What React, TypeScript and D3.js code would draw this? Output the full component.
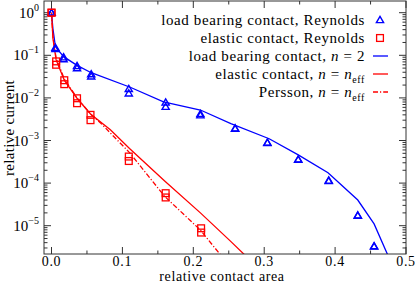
import React from "react";
import * as d3 from "d3";

const W = 415, H = 284;
const M = { left: 44, right: 406, top: 1, bottom: 254 };

const xTicks = [0, 0.1, 0.2, 0.3, 0.4, 0.5];
const xTickLabels = ["0.0", "0.1", "0.2", "0.3", "0.4", "0.5"];
const yDecades = [0, -1, -2, -3, -4, -5];

// load bearing contact, Reynolds (two realizations)
const lbX = [0, 0.0055, 0.017, 0.036, 0.056, 0.109, 0.161, 0.21, 0.259, 0.3045, 0.348, 0.391, 0.432, 0.455];
const lbY1 = [1, 0.15, 0.09, 0.056, 0.036, 0.0162, 0.0078, 0.0042, 0.00193, 8.9e-4, 3.6e-4, 1.15e-4, 1.75e-5, 3.3e-6];
const lbY2 = [1, 0.14, 0.081, 0.05, 0.032, 0.0128, 0.0062, 0.0039, 0.0019, 8.8e-4, 3.55e-4, 1.12e-4, 1.72e-5, 3.25e-6];

// elastic contact, Reynolds (two realizations)
const elX = [0, 0.0065, 0.018, 0.036, 0.055, 0.109, 0.161, 0.211];
const elY1 = [1, 0.072, 0.026, 0.0098, 0.004, 4.2e-4, 5.8e-5, 8.7e-6];
const elY2 = [1, 0.06, 0.021, 0.0075, 0.003, 3.3e-4, 4.6e-5, 6.9e-6];

// load bearing contact, n = 2
const lbLineX = [0, 0.002, 0.0055, 0.017, 0.036, 0.056, 0.111, 0.158, 0.21, 0.253, 0.307, 0.348, 0.39, 0.432, 0.455, 0.474];
const lbLineY = [1, 0.42, 0.16, 0.093, 0.058, 0.039, 0.0178, 0.0081, 0.0052, 0.0025, 0.0011, 4.6e-4, 1.75e-4, 4e-5, 1.1e-5, 2.1e-6];

// elastic contact, n = n_eff
const elLineX = [0, 0.002, 0.0065, 0.018, 0.036, 0.055, 0.083, 0.11, 0.16, 0.21, 0.252, 0.272];
const elLineY = [1, 0.25, 0.078, 0.026, 0.0098, 0.0042, 0.00178, 6.5e-4, 1.1e-4, 2.0e-5, 4.4e-6, 2.1e-6];

// Persson, n = n_eff
const pLineX = [0, 0.002, 0.0065, 0.018, 0.036, 0.055, 0.07, 0.11, 0.16, 0.21, 0.238];
const pLineY = [1, 0.28, 0.085, 0.028, 0.01, 0.0042, 0.0025, 5.2e-4, 4.8e-5, 7.9e-6, 2.1e-6];

const BLUE = "#0000ff";
const RED = "#ff0000";
const FONT = "'Liberation Serif', 'DejaVu Serif', serif";
const FS = 15;

export default function App() {
  const x = d3.scaleLinear().domain([-0.0106, 0.5]).range([M.left, M.right]);
  const yTop = 12.7, perDec = 42.6;
  const yMinLog = -(M.bottom - yTop) / perDec;
  const yMaxLog = (yTop - M.top) / perDec;
  const y = d3.scaleLog().domain([Math.pow(10, yMinLog), Math.pow(10, yMaxLog)]).range([M.bottom, M.top]);

  const line = d3.line<[number, number]>().x(d => x(d[0])).y(d => y(d[1]));
  const zip = (a: number[], b: number[]) => a.map((v, i) => [v, b[i]] as [number, number]);

  const minorY: number[] = [];
  for (let e = -6; e <= 0; e++) for (let m = 2; m <= 9; m++) {
    const v = m * Math.pow(10, e);
    if (Math.log10(v) > yMinLog && Math.log10(v) < yMaxLog) minorY.push(v);
  }
  const minorX = [0.05, 0.15, 0.25, 0.35, 0.45];

  const tri = (cx: number, cy: number, k: string) => (
    <path key={k} d={`M${cx},${cy - 3.6}L${cx + 3.6},${cy + 2.6}L${cx - 3.6},${cy + 2.6}Z`} fill="none" stroke={BLUE} strokeWidth={1.4} />
  );
  const sq = (cx: number, cy: number, k: string) => (
    <rect key={k} x={cx - 3.4} y={cy - 3.4} width={6.8} height={6.8} fill="none" stroke={RED} strokeWidth={1.3} />
  );

  const legend = [
    { label: [<tspan key="a">load bearing contact, Reynolds</tspan>], kind: "tri" },
    { label: [<tspan key="a">elastic contact, Reynolds</tspan>], kind: "sq" },
    { label: [<tspan key="a">load bearing contact, </tspan>, <tspan key="b" fontStyle="italic">n</tspan>, <tspan key="c"> = 2</tspan>], kind: "blue" },
    { label: [<tspan key="a">elastic contact, </tspan>, <tspan key="b" fontStyle="italic">n</tspan>, <tspan key="c"> = </tspan>, <tspan key="d" fontStyle="italic">n</tspan>, <tspan key="e" fontSize={10} dy={4}>eff</tspan>], kind: "red" },
    { label: [<tspan key="a">Persson, </tspan>, <tspan key="b" fontStyle="italic">n</tspan>, <tspan key="c"> = </tspan>, <tspan key="d" fontStyle="italic">n</tspan>, <tspan key="e" fontSize={10} dy={4}>eff</tspan>], kind: "dash" },
  ];
  const legY = [20, 38, 56, 74, 92];

  return (
    <svg width={W} height={H} style={{ position: "absolute", left: 0, top: 0, background: "#fff" }} fontFamily={FONT}>
      <defs>
        <clipPath id="plot"><rect x={M.left} y={M.top} width={M.right - M.left} height={M.bottom - M.top} /></clipPath>
      </defs>
      <g stroke="#333" strokeWidth={1}>
        {xTicks.map((t, i) => (
          <g key={"xt" + i}>
            <line x1={x(t)} x2={x(t)} y1={M.bottom} y2={M.bottom - 7} />
            <line x1={x(t)} x2={x(t)} y1={M.top} y2={M.top + 7} />
          </g>
        ))}
        {minorX.map((t, i) => (
          <g key={"xm" + i}>
            <line x1={x(t)} x2={x(t)} y1={M.bottom} y2={M.bottom - 3.5} />
            <line x1={x(t)} x2={x(t)} y1={M.top} y2={M.top + 3.5} />
          </g>
        ))}
        {yDecades.map((e, i) => (
          <g key={"yt" + i}>
            <line x1={M.left} x2={M.left + 7} y1={y(Math.pow(10, e))} y2={y(Math.pow(10, e))} />
            <line x1={M.right} x2={M.right - 7} y1={y(Math.pow(10, e))} y2={y(Math.pow(10, e))} />
          </g>
        ))}
        {minorY.map((v, i) => (
          <g key={"ym" + i}>
            <line x1={M.left} x2={M.left + 3.5} y1={y(v)} y2={y(v)} />
            <line x1={M.right} x2={M.right - 3.5} y1={y(v)} y2={y(v)} />
          </g>
        ))}
      </g>
      <g clipPath="url(#plot)">
        <path d={line(zip(lbLineX, lbLineY)) || ""} fill="none" stroke={BLUE} strokeWidth={1.3} />
        <path d={line(zip(elLineX, elLineY)) || ""} fill="none" stroke={RED} strokeWidth={1.3} />
        <path d={line(zip(pLineX, pLineY)) || ""} fill="none" stroke={RED} strokeWidth={1.3} strokeDasharray="5,2,1.2,2" />
        {lbX.map((v, i) => tri(x(v), y(lbY1[i]), "ta" + i))}
        {lbX.map((v, i) => tri(x(v), y(lbY2[i]), "tb" + i))}
        {elX.map((v, i) => sq(x(v), y(elY1[i]), "sa" + i))}
        {elX.map((v, i) => sq(x(v), y(elY2[i]), "sb" + i))}
      </g>
      <rect x={M.left} y={M.top} width={M.right - M.left} height={M.bottom - M.top} fill="none" stroke="#333" strokeWidth={1} />
      {xTicks.map((t, i) => (
        <text key={"xl" + i} x={x(t)} y={265.5} textAnchor="middle" fontSize={14} fill="#000" letterSpacing={0.7}>{xTickLabels[i]}</text>
      ))}
      {yDecades.map((e, i) => (
        <text key={"yl" + i} x={39} y={y(Math.pow(10, e)) + 5} textAnchor="end" fontSize={FS} fill="#000">
          10<tspan fontSize={10} dy={-7}>{e === 0 ? "0" : "\u2212" + Math.abs(e)}</tspan>
        </text>
      ))}
      <text x={222} y={280.8} textAnchor="middle" fontSize={14} fill="#000" letterSpacing={0.6}>relative contact area</text>
      <text transform={`translate(14,128) rotate(-90)`} textAnchor="middle" fontSize={FS} fill="#000" letterSpacing={0.3}>relative current</text>
      {legend.map((l, i) => (
        <g key={"lg" + i}>
          <text x={365} y={legY[i] + 5} textAnchor="end" fontSize={FS} fill="#000" letterSpacing={0.6}>{l.label}</text>
          {l.kind === "tri" && tri(380, legY[i], "lt")}
          {l.kind === "sq" && sq(380, legY[i], "ls")}
          {l.kind === "blue" && <line x1={373} x2={388} y1={legY[i]} y2={legY[i]} stroke={BLUE} strokeWidth={1.3} />}
          {l.kind === "red" && <line x1={373} x2={388} y1={legY[i]} y2={legY[i]} stroke={RED} strokeWidth={1.3} />}
          {l.kind === "dash" && <line x1={373} x2={388} y1={legY[i]} y2={legY[i]} stroke={RED} strokeWidth={1.3} strokeDasharray="5,2,1.2,2" />}
        </g>
      ))}
    </svg>
  );
}
